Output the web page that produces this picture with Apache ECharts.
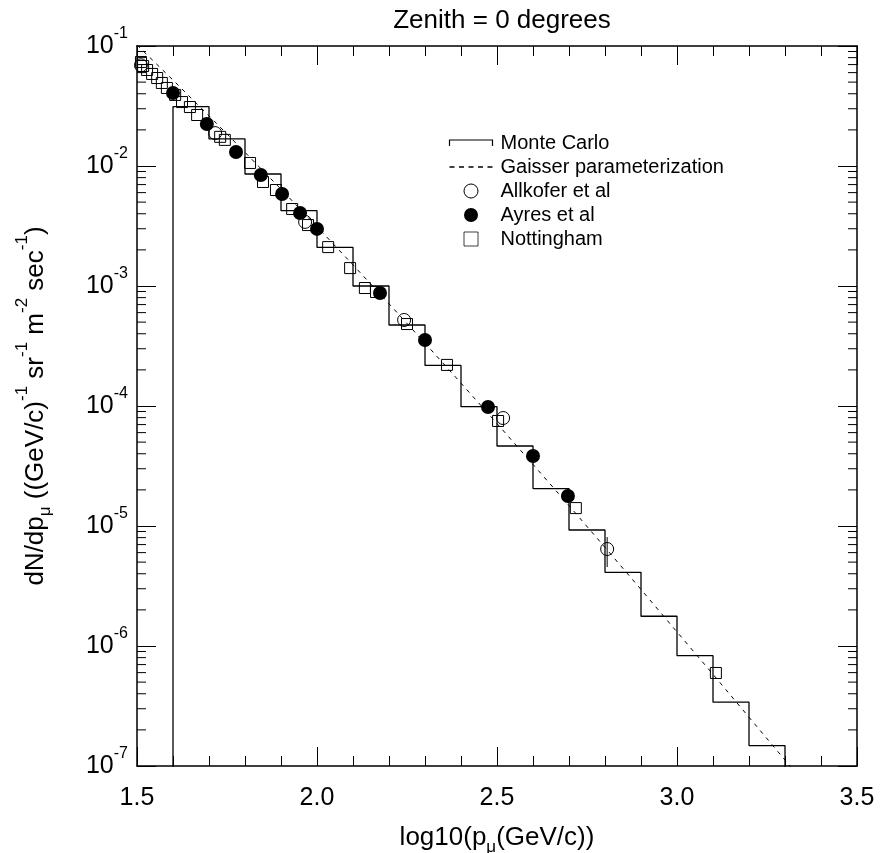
<!DOCTYPE html>
<html><head><meta charset="utf-8">
<script src="https://cdn.jsdelivr.net/npm/echarts@6/dist/echarts.min.js"></script>
<style>html,body{margin:0;padding:0;background:#fff}#c{width:880px;height:853px}</style>
</head><body><div id="c"></div>
<script>
// ---------- data ----------
const xTickValues = [1.5, 2.0, 2.5, 3.0, 3.5];
const yDecadeExponents = [-7, -6, -5, -4, -3, -2, -1];

// Monte Carlo histogram (bin edges in log10 p, values per bin)
const mcBinEdges = [1.6, 1.7, 1.8, 1.9, 2.0, 2.1, 2.2, 2.3, 2.4, 2.5, 2.6, 2.7, 2.8, 2.9, 3.0, 3.1, 3.2, 3.3];
const mcValues = [3.12e-2, 1.68e-2, 8.58e-3, 4.24e-3, 2.10e-3, 1.00e-3, 4.73e-4, 2.18e-4, 9.87e-5, 4.64e-5, 2.05e-5, 9.26e-6, 4.11e-6, 1.77e-6, 8.3e-7, 3.40e-7, 1.48e-7];

// Gaisser parameterization (dashed curve)
const gaisserX = [1.5, 1.6, 1.7, 1.8, 1.9, 2.0, 2.1, 2.2, 2.3, 2.4, 2.5, 2.6, 2.7, 2.8, 2.9, 3.0, 3.1, 3.2, 3.3, 3.4];
const gaisserY = [0.102, 0.0520, 0.0262, 0.0130, 6.41e-3, 3.12e-3, 1.50e-3, 7.11e-4, 3.34e-4, 1.55e-4, 7.14e-5, 3.26e-5, 1.48e-5, 6.63e-6, 2.96e-6, 1.31e-6, 5.81e-7, 2.55e-7, 1.12e-7, 4.87e-8];

// Allkofer et al (open circles)
const allkoferX = [1.511, 1.717, 1.967, 2.242, 2.517, 2.806];
const allkoferY = [0.0690, 0.0188, 3.42e-3, 5.21e-4, 7.94e-5, 6.43e-6];
const allkoferErrLo = [null, null, null, null, null, 4.55e-6];
const allkoferErrHi = [null, null, null, null, null, 8.09e-6];

// Ayres et al (filled circles)
const ayresX = [1.600, 1.694, 1.775, 1.844, 1.903, 1.953, 2.000, 2.175, 2.300, 2.475, 2.600, 2.697];
const ayresY = [0.0406, 0.0224, 0.0131, 8.41e-3, 5.84e-3, 4.06e-3, 2.99e-3, 8.74e-4, 3.55e-4, 9.81e-5, 3.83e-5, 1.78e-5];

// Nottingham (open squares)
const nottX = [1.511, 1.517, 1.528, 1.542, 1.556, 1.569, 1.583, 1.606, 1.625, 1.647, 1.667, 1.731, 1.744, 1.814, 1.850, 1.886, 1.931, 1.975, 2.031, 2.092, 2.133, 2.164, 2.250, 2.361, 2.503, 2.719, 3.108];
const nottY = [0.0736, 0.0681, 0.0631, 0.0585, 0.0541, 0.0492, 0.0447, 0.0391, 0.0341, 0.0310, 0.0266, 0.0175, 0.0165, 0.0106, 7.36e-3, 6.31e-3, 4.38e-3, 3.22e-3, 2.11e-3, 1.41e-3, 9.62e-4, 8.91e-4, 4.82e-4, 2.20e-4, 7.50e-5, 1.41e-5, 5.96e-7];

// ---------- build ----------
const FONT = '"Liberation Sans", Arial, Helvetica, sans-serif';
const X_MIN = 1.5, X_MAX = 3.5, Y_MIN = 1e-7, Y_MAX = 1e-1;

const mcPath = [];
mcPath.push([mcBinEdges[0], 1e-9]);
for (let i = 0; i < mcValues.length; i++) {
  mcPath.push([mcBinEdges[i], mcValues[i]]);
  mcPath.push([mcBinEdges[i + 1], mcValues[i]]);
}
mcPath.push([mcBinEdges[mcBinEdges.length - 1], 1e-9]);

const zip = (a, b) => a.map((v, i) => [v, b[i]]);
const gaisserData = zip(gaisserX, gaisserY);
const allkoferData = zip(allkoferX, allkoferY);
const ayresData = zip(ayresX, ayresY);
const nottData = zip(nottX, nottY);
const errData = allkoferX.map((x, i) => [x, allkoferErrLo[i], allkoferErrHi[i]]).filter(d => d[1] != null);

const yMinorValues = [];
for (let k = 0; k < yDecadeExponents.length - 1; k++) {
  for (let m = 2; m <= 9; m++) yMinorValues.push([X_MIN, m * Math.pow(10, yDecadeExponents[k])]);
}

const labelRich = {
  b: { fontSize: 25, lineHeight: 25, fontFamily: FONT, color: '#000', padding: [8, 0, 8, 0] },
  s: { fontSize: 16, lineHeight: 16, fontFamily: FONT, color: '#000', padding: [0, 0, 25, 0] }
};
const nameRich = {
  t: { fontSize: 26, lineHeight: 26, fontFamily: FONT, color: '#000', padding: [9, 0, 9, 0] },
  sup: { fontSize: 17, lineHeight: 17, fontFamily: FONT, color: '#000', padding: [0, 0, 27, 0] },
  sub: { fontSize: 17, lineHeight: 17, fontFamily: FONT, color: '#000', padding: [23, 0, 4, 0] }
};

const axisLineStyle = { color: '#000', width: 1.5 };
function xAxisCfg(pos, withLabels) {
  return {
    type: 'value', position: pos, min: X_MIN, max: X_MAX, interval: 0.5,
    axisLine: { show: true, onZero: false, lineStyle: axisLineStyle },
    axisTick: { show: true, inside: true, length: 19, lineStyle: { color: '#000', width: 1 } },
    minorTick: { show: true, splitNumber: 5, length: 10, lineStyle: { color: '#000', width: 1 } },
    splitLine: { show: false }, minorSplitLine: { show: false },
    axisLabel: { show: withLabels, fontSize: 25, fontFamily: FONT, color: '#000', margin: 20,
      formatter: v => v.toFixed(1) },
    name: withLabels ? '{t|log10(p}{sub|μ}{t|(GeV/c))}' : '',
    nameLocation: 'middle', nameGap: 29,
    nameTextStyle: { rich: nameRich }
  };
}
function yAxisCfg(pos, withLabels) {
  return {
    type: 'log', logBase: 10, position: pos, min: Y_MIN, max: Y_MAX, splitNumber: 6,
    axisLine: { show: true, onZero: false, lineStyle: axisLineStyle },
    axisTick: { show: true, inside: true, length: 19, lineStyle: { color: '#000', width: 1 } },
    splitLine: { show: false },
    axisLabel: { show: withLabels, margin: 9,
      formatter: v => '{b|10}{s|' + Math.round(Math.log10(v)) + '}', rich: labelRich },
    name: withLabels ? '{t|dN/dp}{sub|μ}{t| ((GeV/c)}{sup|-1}{t| sr}{sup|-1}{t| m}{sup|-2}{t| sec}{sup|-1}{t|)}' : '',
    nameLocation: 'middle', nameGap: 88, nameRotate: 90,
    nameTextStyle: { rich: nameRich }
  };
}

const dashIcon = 'path://M0,0h5v1.3h-5z M9.5,0h5v1.3h-5z M19,0h5v1.3h-5z M28.5,0h5v1.3h-5z M38,0h5v1.3h-5z';

const option = {
  backgroundColor: '#fff',
  animation: false,
  title: {
    text: 'Zenith = 0 degrees', left: 497, top: 3, textAlign: 'center',
    textStyle: { fontSize: 26, fontWeight: 'normal', fontFamily: FONT, color: '#000' }
  },
  grid: { left: 137, right: 23, top: 46, bottom: 87, containLabel: false, outerBoundsMode: 'none' },
  legend: {
    orient: 'vertical', left: 442, top: 128, itemWidth: 43, itemHeight: 14, itemGap: 4,
    selectedMode: false,
    textStyle: { fontSize: 20, lineHeight: 20, fontFamily: FONT, color: '#000', padding: [0, 0, 0, 3] },
    data: [
      { name: 'Monte Carlo', icon: 'path://M0,6L0,0L43,0L43,6', itemStyle: { color: 'none', borderColor: '#000', borderWidth: 1.2 } },
      { name: 'Gaisser parameterization', icon: dashIcon, itemStyle: { color: '#000', borderWidth: 0 } },
      { name: 'Allkofer et al', icon: 'circle', itemStyle: { color: '#fff', borderColor: '#000', borderWidth: 1 } },
      { name: 'Ayres et al', icon: 'circle', itemStyle: { color: '#000', borderColor: '#000', borderWidth: 0 } },
      { name: 'Nottingham', icon: 'path://M0,0L10,0L10,10L0,10Z', itemStyle: { color: '#fff', borderColor: '#000', borderWidth: 0.75 } }
    ]
  },
  xAxis: [xAxisCfg('bottom', true), xAxisCfg('top', false)],
  yAxis: [yAxisCfg('left', true), yAxisCfg('right', false)],
  series: [
    {
      name: 'yMinorTicks', type: 'custom', silent: true, xAxisIndex: 0, yAxisIndex: 0,
      data: yMinorValues, clip: false, z: 1,
      renderItem: (params, api) => {
        const p = api.coord([api.value(0), api.value(1)]);
        const r = params.coordSys;
        return { type: 'group', children: [
          { type: 'line', shape: { x1: r.x, y1: p[1], x2: r.x + 9, y2: p[1] }, style: { stroke: '#000', lineWidth: 1 } },
          { type: 'line', shape: { x1: r.x + r.width - 9, y1: p[1], x2: r.x + r.width, y2: p[1] }, style: { stroke: '#000', lineWidth: 1 } }
        ] };
      }
    },
    {
      name: 'Monte Carlo', type: 'line', data: mcPath, symbol: 'none', color: '#000',
      lineStyle: { color: '#000', width: 1.3 }, clip: true, z: 2
    },
    {
      name: 'Gaisser parameterization', type: 'line', data: gaisserData, symbol: 'none', color: '#000',
      lineStyle: { color: '#000', width: 1, type: [4, 5] }, clip: true, z: 2
    },
    {
      name: 'allkoferErr', type: 'custom', silent: true, data: errData, z: 3,
      renderItem: (params, api) => {
        const a = api.coord([api.value(0), api.value(1)]);
        const b = api.coord([api.value(0), api.value(2)]);
        return { type: 'line', shape: { x1: a[0], y1: a[1], x2: b[0], y2: b[1] }, style: { stroke: '#000', lineWidth: 1 } };
      }
    },
    {
      name: 'Nottingham', type: 'scatter', data: nottData, symbol: 'rect', symbolSize: 11, z: 4,
      itemStyle: { color: 'rgba(0,0,0,0)', borderColor: '#000', borderWidth: 1, opacity: 1 }
    },
    {
      name: 'Allkofer et al', type: 'scatter', data: allkoferData, symbol: 'circle', symbolSize: 13, z: 4,
      itemStyle: { color: 'rgba(0,0,0,0)', borderColor: '#000', borderWidth: 1, opacity: 1 }
    },
    {
      name: 'Ayres et al', type: 'scatter', data: ayresData, symbol: 'circle', symbolSize: 14, z: 5,
      itemStyle: { color: '#000', borderWidth: 0, opacity: 1 }
    }
  ]
};

const chart = echarts.init(document.getElementById('c'), null, { renderer: 'canvas' });
chart.setOption(option);
</script>
</body></html>
